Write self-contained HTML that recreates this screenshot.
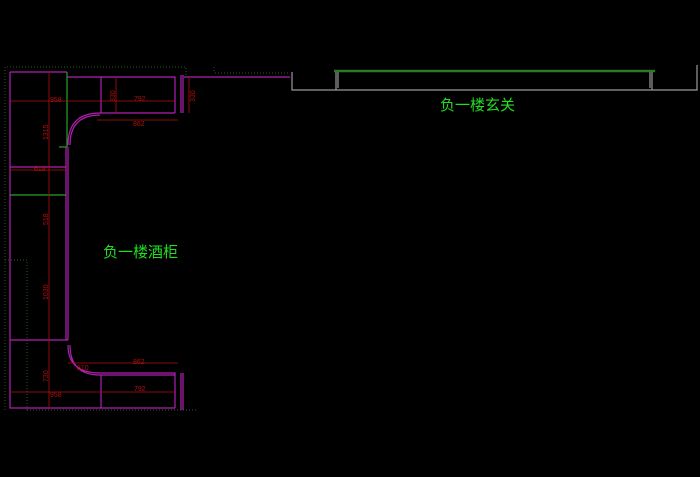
<!DOCTYPE html>
<html><head><meta charset="utf-8"><style>
html,body{margin:0;padding:0;background:#000;width:700px;height:477px;overflow:hidden}
svg{display:block}
text{font-family:"Liberation Sans","Noto Sans CJK SC",sans-serif}
</style></head><body>
<svg width="700" height="477" viewBox="0 0 700 477" xmlns="http://www.w3.org/2000/svg">
<rect width="700" height="477" fill="#000"/>
<!-- dotted green outlines -->
<g stroke="#1f5f1f" stroke-width="1" stroke-dasharray="1,2" fill="none">
<path d="M5,410 V67 H186 V75"/>
<path d="M5,260 H27 V410"/>
<path d="M27,410 H196"/>
<path d="M214,67 V73 M215,73 H290"/>
</g>
<!-- magenta cabinet -->
<g stroke="#b020b0" stroke-width="1.2" fill="none">
<path d="M10,72 H67"/>
<path d="M10,72 V408 H175"/>
<path d="M67,77 H175 V113 M101,77 V113"/>
<path d="M100,113 H175"/>
<path d="M68,145 Q68,113 100,113"/>
<path d="M70,145 Q70,115 100,115"/>
<path d="M68,147 V340"/>
<path d="M66,147 V340"/>
<path d="M10,340 H68"/>
<path d="M68,345 Q68,373 100,373 M70,345 Q70,375 100,375"/>
<path d="M100,373 H175 V408 M100,375 H175 M101,375 V408"/>
<path d="M181,75 V113 M183,75 V113 M181,373 V410 M183,373 V410"/>
<path d="M184,77 H290"/>
<path d="M10,167 H66"/>
</g>
<!-- green lines -->
<g stroke="#2aa02a" stroke-width="1.2">
<line x1="67" y1="72" x2="67" y2="147"/>
<line x1="59" y1="147" x2="67" y2="147"/>
<line x1="10" y1="195" x2="66" y2="195"/>
</g>
<!-- red dims -->
<g stroke="#b01010" stroke-width="0.8">
<line x1="49" y1="72" x2="49" y2="408"/>
<line x1="10" y1="101" x2="175" y2="101"/>
<line x1="116" y1="77" x2="116" y2="113"/>
<line x1="97" y1="120" x2="178" y2="120"/>
<line x1="10" y1="170" x2="68" y2="170"/>
<line x1="189" y1="77" x2="189" y2="113"/>
<line x1="68" y1="363" x2="178" y2="363"/>
<line x1="10" y1="392" x2="175" y2="392"/>
</g>
<g fill="#b01010" font-size="7">
<text x="50" y="102">958</text><text x="134" y="101">792</text>
<text x="133" y="126">862</text><text x="34" y="171">618</text>
<text x="77" y="370">310</text><text x="133" y="364">862</text>
<text x="50" y="397">958</text><text x="134" y="391">792</text>
<text transform="translate(48,140) rotate(-90)">1315</text>
<text transform="translate(48,225) rotate(-90)">518</text>
<text transform="translate(48,300) rotate(-90)">1030</text>
<text transform="translate(48,382) rotate(-90)">730</text>
<text transform="translate(115,102) rotate(-90)">330</text>
<text transform="translate(195,102) rotate(-90)">330</text>
</g>
<text x="103" y="257" fill="#22dd22" font-size="15">负一楼酒柜</text>
<!-- foyer -->
<g stroke="#999" stroke-width="1.2" fill="none">
<path d="M292,72 V90 H697 V65"/>
<path d="M336,72 V90 M338,72 V88 M652,72 V90 M650,72 V88"/>
</g>
<line x1="334" y1="71" x2="655" y2="71" stroke="#2a7a2a" stroke-width="2.5"/>
<text x="440" y="110" fill="#22dd22" font-size="15">负一楼玄关</text>
</svg>
</body></html>
